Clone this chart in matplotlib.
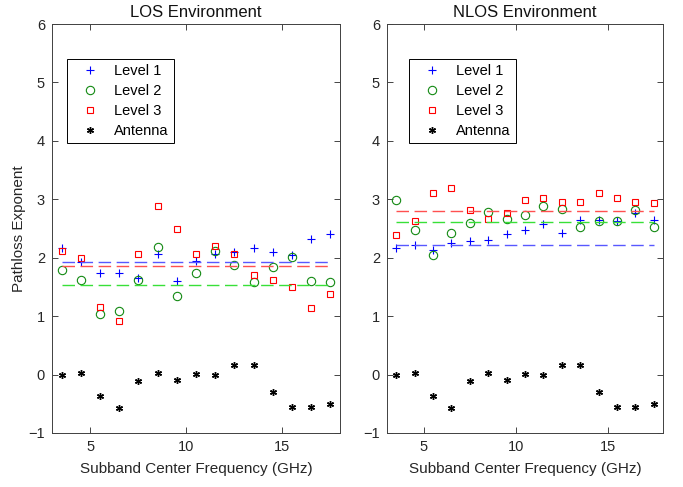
import numpy as np
import matplotlib
matplotlib.use('Agg')
import matplotlib.pyplot as plt

plt.rcParams['font.family'] = ['Liberation Sans', 'DejaVu Sans']

# subband centre frequencies (GHz)
freq = np.arange(3.5, 18.0, 1.0)

# LOS pathloss exponents per level
los_level1 = [2.16, 1.92, 1.73, 1.74, 1.66, 2.07, 1.60, 1.94, 2.07, 2.10, 2.17, 2.09, 2.04, 2.32, 2.41]
los_level2 = [1.79, 1.61, 1.04, 1.09, 1.61, 2.18, 1.35, 1.73, 2.11, 1.88, 1.58, 1.84, 2.02, 1.60, 1.59]
los_level3 = [2.11, 2.00, 1.16, 0.91, 2.06, 2.88, 2.49, 2.06, 2.20, 2.06, 1.71, 1.61, 1.50, 1.14, 1.38]
los_fit = [1.93, 1.54, 1.86]

# NLOS pathloss exponents per level
nlos_level1 = [2.16, 2.21, 2.14, 2.26, 2.28, 2.30, 2.40, 2.47, 2.58, 2.43, 2.65, 2.65, 2.63, 2.76, 2.64]
nlos_level2 = [2.98, 2.47, 2.05, 2.42, 2.59, 2.78, 2.66, 2.73, 2.89, 2.84, 2.52, 2.62, 2.62, 2.82, 2.53]
nlos_level3 = [2.39, 2.62, 3.10, 3.19, 2.81, 2.67, 2.76, 2.99, 3.02, 2.96, 2.95, 3.10, 3.03, 2.96, 2.93]
nlos_fit = [2.22, 2.61, 2.80]

# antenna contribution (same for both environments)
antenna = [0.00, 0.02, -0.37, -0.58, -0.11, 0.02, -0.09, 0.01, 0.00, 0.16, 0.16, -0.30, -0.55, -0.55, -0.51]

fig = plt.figure(figsize=(6.83, 4.87), dpi=100)
ax_los = fig.add_axes([0.0761, 0.1109, 0.4217, 0.8398])
ax_nlos = fig.add_axes([0.5666, 0.1109, 0.4041, 0.8398])

blue = '#0000ff'
green = '#138a13'
red = '#ff0000'
asterisk = (6, 2, 0)


def draw(ax, l1, l2, l3, fit, title, legx):
    ax.plot(freq, l1, '+', color=blue, ms=6, mew=0.8, label='Level 1')
    ax.plot(freq, l2, 'o', color=green, mfc='none', ms=6, mew=0.8, label='Level 2')
    ax.plot(freq, l3, 's', color=red, mfc='none', ms=5, mew=0.8, label='Level 3')
    ax.plot(freq, antenna, ls='none', marker=asterisk, color='k', ms=5, mew=1.0, label='Antenna')
    # fitted exponents as dashed horizontal lines
    for val, c in zip(fit, ['#5858ff', '#38e038', '#ff5050']):
        ax.plot([freq[0], freq[-1]], [val, val], color=c, lw=1.0, dashes=(9, 4))
    ax.set_xlim(3, 18)
    ax.set_ylim(-1, 6)
    ax.set_xticks([5, 10, 15])
    ax.set_yticks(range(-1, 7))
    ax.tick_params(direction='in', top=True, right=True, length=4, width=0.6,
                   labelsize=10.5, colors='#262626', pad=5)
    for sp in ax.spines.values():
        sp.set_color('#404040')
        sp.set_linewidth(0.7)
    ax.set_title(title, fontsize=12, color='#111111', pad=5)
    ax.set_xlabel('Subband Center Frequency (GHz)', fontsize=11, color='#262626', labelpad=6)
    leg = ax.legend(loc='upper left', bbox_to_anchor=(legx, 0.915), fontsize=10.5,
                    frameon=True, fancybox=False, edgecolor='k', framealpha=1,
                    handlelength=2.4, handletextpad=0.5, borderpad=0.35, labelspacing=0.42,
                    borderaxespad=0)
    leg.get_frame().set_linewidth(0.7)


draw(ax_los, los_level1, los_level2, los_level3, los_fit, 'LOS Environment', 0.052)
draw(ax_nlos, nlos_level1, nlos_level2, nlos_level3, nlos_fit, 'NLOS Environment', 0.08)
ax_los.set_ylabel('Pathloss Exponent', fontsize=11, color='#262626', labelpad=2)

fig.savefig('out.png', dpi=100)
